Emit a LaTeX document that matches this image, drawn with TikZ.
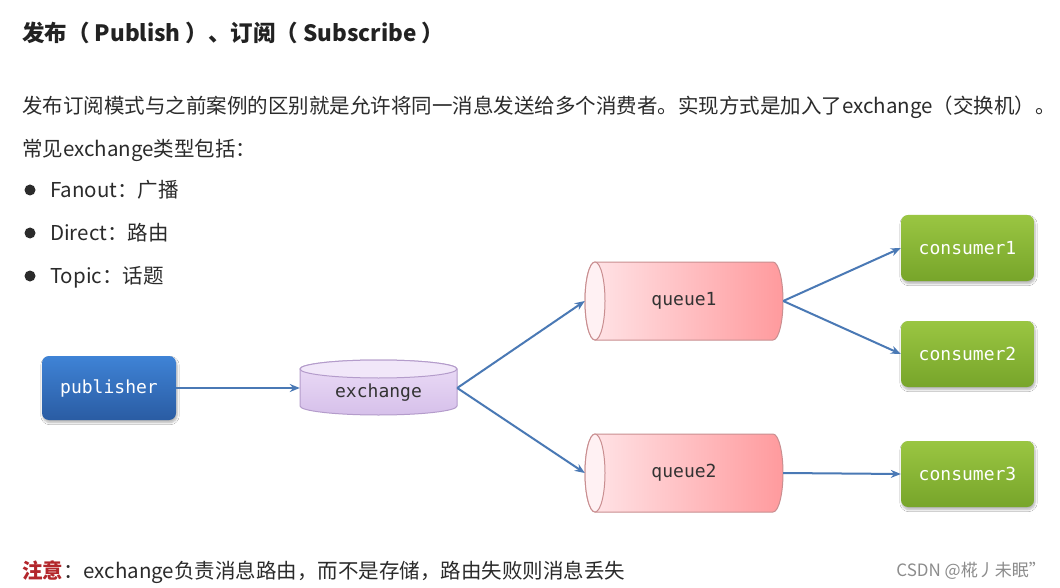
\documentclass[tikz,border=0pt]{standalone}
\usepackage{fontspec}
\setmainfont{Noto Sans CJK SC}
\newfontfamily\monof{DejaVu Sans Mono}
\usetikzlibrary{arrows.meta,shadows.blur}
\definecolor{txt}{HTML}{2B2B2B}
\definecolor{titlec}{HTML}{222222}
\definecolor{notered}{HTML}{B3262B}
\definecolor{wm}{HTML}{8C8C8C}
\definecolor{pubT}{HTML}{3F83D6}
\definecolor{pubB}{HTML}{2A5CA3}
\definecolor{conT}{HTML}{9AC642}
\definecolor{conB}{HTML}{77A52A}
\definecolor{exT}{HTML}{ECDDF7}
\definecolor{exBt}{HTML}{D6C0EA}
\definecolor{exTop}{HTML}{F1E7F9}
\definecolor{exLine}{HTML}{B49CCB}
\definecolor{qL}{HTML}{FFE6E9}
\definecolor{qR}{HTML}{FF9A9D}
\definecolor{qE}{HTML}{FFF1F3}
\definecolor{qLine}{HTML}{C98E90}
\definecolor{arrowc}{HTML}{4A79B5}
\definecolor{nodetxt}{HTML}{333333}
\begin{document}
\begin{tikzpicture}[x=1pt,y=-1pt,
  body/.style={anchor=base west, inner sep=0pt, font=\fontsize{20.5}{24}\selectfont, text=txt},
  box/.style={rounded corners=7pt, minimum width=133pt, minimum height=66pt, inner sep=0pt,
    font=\monof\fontsize{18}{21}\selectfont, text=white,
    blur shadow={shadow xshift=1pt, shadow yshift=-2.5pt, shadow opacity=30, shadow blur steps=6}},
  pubbox/.style={box, top color=pubT, bottom color=pubB},
  conbox/.style={box, top color=conT, bottom color=conB},
  textin/.style={inner sep=0pt, font=\monof\fontsize{18}{21}\selectfont, text=nodetxt},
  conn/.style={draw=arrowc, line width=2pt, -{Stealth[length=10pt,width=8pt]}},
  bulletdot/.style={circle, fill=txt, minimum size=11pt, inner sep=0pt}
]
\useasboundingbox[fill=white] (0,0) rectangle (1060,588);

% texts
\node[body, font=\bfseries\fontsize{22.5}{26}\selectfont, text=titlec] (title) at (22,41.5) {发布（ Publish ）、订阅（ Subscribe ）};
\node[body] (intro) at (22,113.6) {发布订阅模式与之前案例的区别就是允许将同一消息发送给多个消费者。实现方式是加入了exchange（交换机）。};
\node[body] (types) at (22,156.6) {常见exchange类型包括：};
\node[bulletdot] (b1) at (30,190) {};
\node[bulletdot] (b2) at (30,233) {};
\node[bulletdot] (b3) at (30,276) {};
\node[body] (t1) at (50,197.6) {Fanout：广播};
\node[body] (t2) at (50,240.6) {Direct：路由};
\node[body] (t3) at (50,283.6) {Topic：话题};
\node[body] (note) at (22,578.6) {{\color{notered}\bfseries 注意}：exchange负责消息路由，而不是存储，路由失败则消息丢失};
\node[anchor=base east, inner sep=0pt, font=\fontsize{17}{20}\selectfont, text=wm] (mark) at (1046,576.5) {CSDN @椛丿未眠”};

% exchange cylinder
\path[draw=exLine, line width=1pt, top color=exT, bottom color=exBt]
  (300,369) -- (300,406) arc[start angle=180, end angle=0, x radius=78.5, y radius=9]
  -- (457,369) arc[start angle=0, end angle=-180, x radius=78.5, y radius=9] -- cycle;
\path[draw=exLine, line width=1pt, fill=exTop] (378.5,369) ellipse[x radius=78.5, y radius=9];

% queue cylinders
\foreach \yc in {301,473} {
  \path[draw=qLine, line width=1pt, left color=qL, right color=qR]
    (595,\yc-39) -- (773,\yc-39) arc[start angle=-90, end angle=90, x radius=10, y radius=39]
    -- (595,\yc+39) arc[start angle=90, end angle=270, x radius=10, y radius=39] -- cycle;
  \path[draw=qLine, line width=1pt, fill=qE] (595,\yc) ellipse[x radius=10, y radius=39];
}

% nodes
\node[pubbox, minimum width=134pt, minimum height=64pt] (pub) at (109,388) {publisher};
\node[textin, minimum width=157pt, minimum height=55pt, text height=19pt, text depth=0pt] (ex) at (378.5,388) {exchange};
\node[textin, minimum width=198pt, minimum height=78pt] (q1) at (684,301) {queue1};
\node[textin, minimum width=198pt, minimum height=78pt] (q2) at (684,473) {queue2};
\node[conbox] (c1) at (967.5,248) {consumer1};
\node[conbox] (c2) at (967.5,354) {consumer2};
\node[conbox] (c3) at (967.5,474) {consumer3};

% connectors
\draw[conn] (pub.east) -- (ex.west);
\draw[conn] (ex.east) -- (q1.west);
\draw[conn] (ex.east) -- (q2.west);
\draw[conn] (q1.east) -- (c1.west);
\draw[conn] (q1.east) -- (c2.west);
\draw[conn] (q2.east) -- (c3.west);
\end{tikzpicture}
\end{document}
